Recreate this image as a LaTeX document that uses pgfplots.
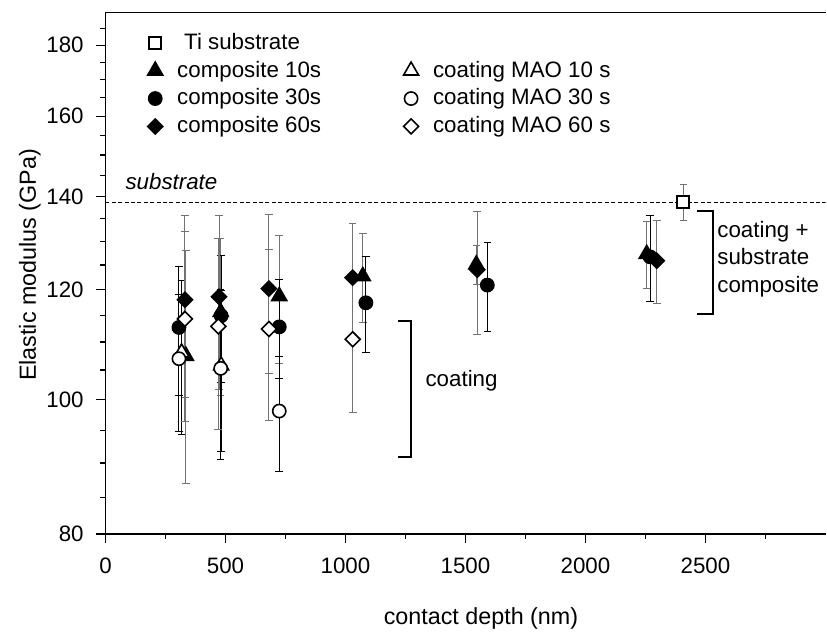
\documentclass[border=0pt]{standalone}
\usepackage{pgfplots}
\pgfplotsset{compat=1.18}
\usepackage{pgfplotstable}
\usepackage{fontspec}
\setmainfont{Liberation Sans}

% x = contact depth (nm), y = elastic modulus (GPa), e = error
\pgfplotstableread{
x y e
2408 138.7 4.2
}\tisub
\pgfplotstableread{
x y e
335 107.5 20.5
480 115.6 15.0
724 118.7 12.6
1072 122.7 9.0
1545 125.1 4.0
2255 127.3 7.0
}\compten
\pgfplotstableread{
x y e
306 112.7 12.0
482 114.9 12.1
724 112.8 9.3
1085 117.4 9.3
1591 120.9 8.9
2269 126.7 9.1
}\compthirty
\pgfplotstableread{
x y e
331 118.0 17.7
473 118.6 17.0
681 120.2 15.8
1030 122.4 11.6
1549 124.0 12.7
2297 125.9 8.7
}\compsixty
\pgfplotstableread{
x y e
317 108.1 13.8
482 105.8 14.0
}\maoten
\pgfplotstableread{
x y e
306 107.0 12.1
480 105.3 14.8
724 98.1 9.3
}\maothirty
\pgfplotstableread{
x y e
331 114.3 17.9
470 112.9 17.7
681 112.4 15.8
1030 110.5 12.6
}\maosixty

\newcommand{\fs}{\fontsize{11.2}{13.4}\selectfont}
\newcommand{\fl}{\fontsize{11.7}{14}\selectfont}

\pgfplotsset{
  ebars/.style={forget plot, only marks, mark=none,
    error bars/.cd, y dir=both, y explicit,
    error bar style={line width=0.5bp, draw=#1},
    error mark options={rotate=90, mark size=1.9bp, line width=0.5bp, draw=#1}},
  limg/.style={legend image code/.code={\path[draw=none, fill=none] (0bp,0bp) -- (17bp,0bp); \draw[##1, draw=none] plot coordinates {(8bp,0bp)};}},
  mtri/.style={only marks, mark=triangle*, mark size=4.3bp, mark options={draw=black, fill=#1, line width=0.8bp}, limg},
  mcirc/.style={only marks, mark=*, mark size=3.3bp, mark options={draw=black, fill=#1, line width=0.8bp}, limg},
  mdia/.style={only marks, mark=square*, mark size=2.65bp, mark options={rotate=45, draw=black, fill=#1, line width=0.8bp}, limg},
  msq/.style={only marks, mark=square*, mark size=3bp, mark options={draw=black, fill=white, line width=1bp}, limg},
}

\begin{document}
\fs
\begin{tikzpicture}
\begin{axis}[
  scale only axis, width=360bp, height=260.65bp,
  xmin=0, xmax=3000, ymode=log, ymin=80, ymax=190,
  axis x line=box, axis y line=left,
  axis line style={-, line width=0.7bp},
  xtick pos=left, ytick pos=left, tick align=outside,
  xtick={0,500,1000,1500,2000,2500},
  xticklabels={0,500,1000,1500,2000,2500},
  minor xtick={250,750,1250,1750,2250,2750},
  ytick={80,100,120,140,160,180},
  yticklabels={80,100,120,140,160,180},
  minor ytick={85,90,95,105,110,115,125,130,135,145,150,155,165,170,175,185},
  major tick length=4.5bp, minor tick length=2.5bp,
  every tick/.style={black, line width=0.7bp},
  tick label style={font=\fs},
  xticklabel style={yshift=-3.5bp},
  yticklabel style={xshift=-2.5bp},
  xlabel={contact depth (nm)}, ylabel={Elastic modulus (GPa)},
  label style={font=\fl},
  xlabel style={at={(axis description cs:0.5215,-0.163)}, anchor=center},
  ylabel style={at={(axis description cs:-0.105,0.516)}, anchor=center, rotate=0},
  legend columns=2,
  legend cell align=left,
  legend style={at={(axis description cs:0.038,0.977)}, anchor=north west,
    draw=none, fill=none, font=\fs,
    row sep=0.2bp,
    /tikz/every even column/.append style={column sep=35bp}},
]
% substrate reference line
\addplot[forget plot, line width=0.5bp, dash pattern=on 2bp off 1.2bp] coordinates {(0,138.7) (3000,138.7)};

% error bars
\addplot[ebars=black!55] table[x=x,y=y,y error=e]{\tisub};
\addplot[ebars=black!55] table[x=x,y=y,y error=e]{\compten};
\addplot[ebars=black] table[x=x,y=y,y error=e]{\compthirty};
\addplot[ebars=black!55] table[x=x,y=y,y error=e]{\compsixty};
\addplot[ebars=black] table[x=x,y=y,y error=e]{\maoten};
\addplot[ebars=black] table[x=x,y=y,y error=e]{\maothirty};
\addplot[ebars=black!55] table[x=x,y=y,y error=e]{\maosixty};

% markers
\addplot[forget plot, msq] table[x=x,y=y]{\tisub};
\addplot[forget plot, mtri=black] table[x=x,y=y]{\compten};
\addplot[forget plot, mcirc=black] table[x=x,y=y]{\compthirty};
\addplot[forget plot, mdia=black] table[x=x,y=y]{\compsixty};
\addplot[forget plot, mtri=white] table[x=x,y=y]{\maoten};
\addplot[forget plot, mcirc=white] table[x=x,y=y]{\maothirty};
\addplot[forget plot, mdia=white] table[x=x,y=y]{\maosixty};

% legend
\addlegendimage{msq}\addlegendentry{\hspace{3.5bp}Ti substrate}
\addlegendimage{empty legend}\addlegendentry{}
\addlegendimage{mtri=black}\addlegendentry{composite 10s}
\addlegendimage{mtri=white}\addlegendentry{coating MAO 10 s}
\addlegendimage{mcirc=black}\addlegendentry{composite 30s}
\addlegendimage{mcirc=white}\addlegendentry{coating MAO 30 s}
\addlegendimage{mdia=black}\addlegendentry{composite 60s}
\addlegendimage{mdia=white}\addlegendentry{coating MAO 60 s}

% annotations
\node[anchor=base west, font=\fs\itshape] at (axis cs:51,138.7) [yshift=6.5bp] {substrate};
\draw[line width=0.9bp] (axis cs:1220,113.9) -- (axis cs:1272,113.9) -- (axis cs:1272,90.9) -- (axis cs:1220,90.9);
\node[anchor=west, font=\fs] at (axis cs:1301,103.2) {coating};
\draw[line width=0.9bp] (axis cs:2463,136.7) -- (axis cs:2530,136.7) -- (axis cs:2530,115.2) -- (axis cs:2463,115.2);
\node[anchor=west, align=left, font=\fontsize{11.2}{14}\selectfont] at (axis cs:2517,126.2) {coating +\\substrate\\composite};
\end{axis}
\pgfresetboundingbox
\path[use as bounding box] ([shift={(-52.75bp,-49.5bp)}]current axis.south west) rectangle ([shift={(0.75bp,6.35bp)}]current axis.north east);
\end{tikzpicture}
\end{document}
